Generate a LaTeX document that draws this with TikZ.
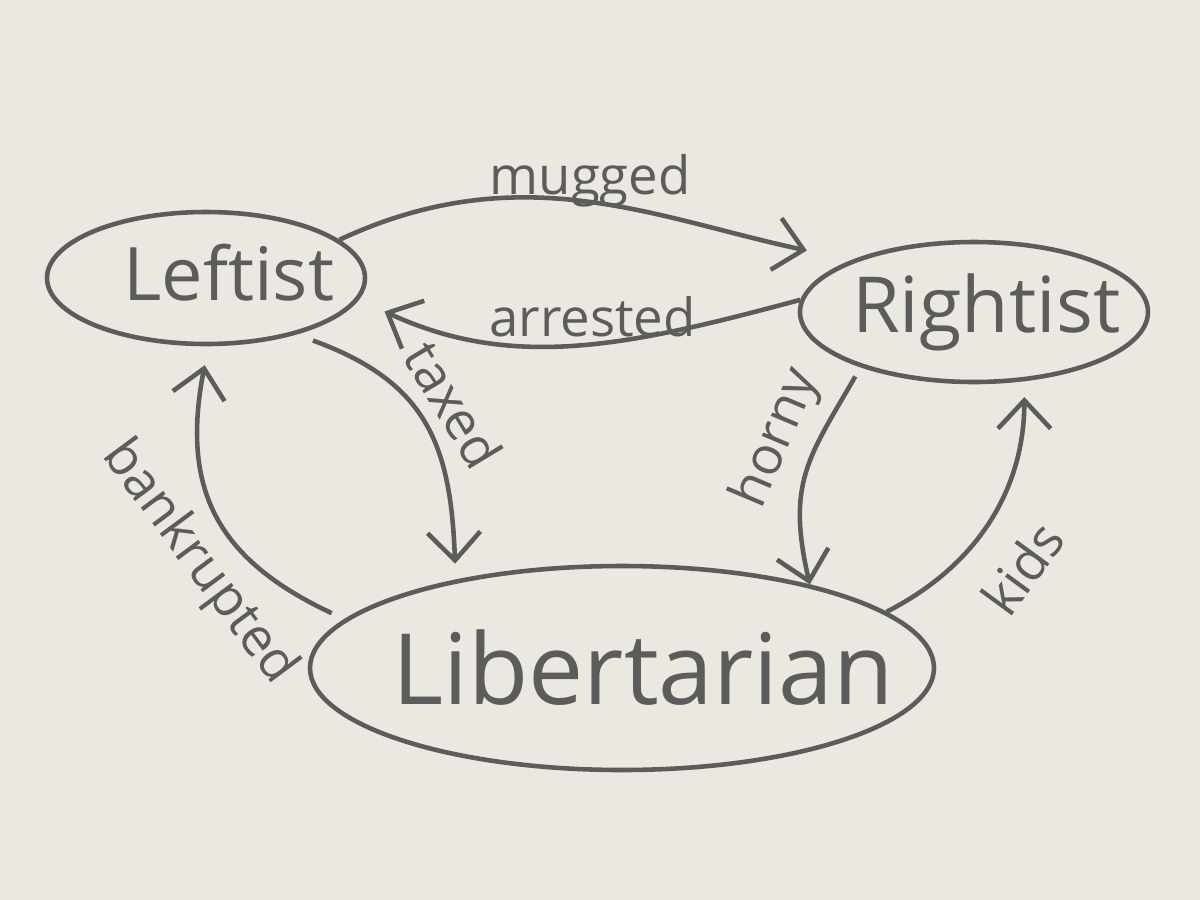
\documentclass[tikz,border=0pt]{standalone}
\usepackage{fontspec}
\setmainfont{Open Sans}
\usetikzlibrary{shapes.geometric,arrows.meta}

\definecolor{pencil}{RGB}{92,92,90}
\definecolor{paper}{RGB}{235,232,226}

\tikzstyle{party}=[draw,ellipse,line width=1.3pt,inner sep=0pt]
\tikzstyle{edge} = [draw,line width=1.3pt,-{Straight Barb[length=8pt,width=15pt]}]
\tikzstyle{weight} = [font=\fontsize{15}{18}\selectfont,inner sep=1pt]

\begin{document}
\begin{tikzpicture}[color=pencil]
    % the sheet of paper
    \useasboundingbox (0,0) rectangle (12,-9);
    \fill[paper] (0,0) rectangle (12,-9);
    % First we draw the three parties
    \foreach \pos/\name/\w/\h/\fs/\dx/\dy in {{(2.06,-2.78)/Leftist/3.18/1.32/21/13pt/3pt}, {(9.74,-3.12)/Rightist/3.48/1.40/22/7pt/0pt}, {(6.22,-6.68)/Libertarian/6.24/2.04/28/12pt/0pt}}
        \node[party,minimum width=\w cm,minimum height=\h cm] (\name) at \pos {\fontsize{\fs}{\fs}\selectfont\makebox[0pt]{\hspace{\dx}\raisebox{\dy}{\name}}};
    % Connect parties with arrows and write the reasons
    \path[edge,shorten >=13pt] (Leftist.16) to[out=25,in=168] node[weight,above=-3pt,pos=.5] {mugged} (Rightist.157);
    \path[edge,shorten >=8pt] (Rightist.176) to[out=195,in=-25] node[weight,above,pos=.46] {arrested} (Leftist.-8);
    \path[edge,shorten <=5pt,shorten >=4.5pt] (Leftist.-32) to[out=-20,in=92,looseness=1.2] node[weight,sloped,above=3pt,pos=.5] {taxed} (Libertarian.152);
    \path[edge,shorten <=4pt,shorten >=5.5pt] (Libertarian.170) to[out=155,in=-101,looseness=1.2] node[weight,sloped,below=3pt,pos=.4] {bankrupted} (Leftist.-88);
    \path[edge,shorten <=3pt] (Rightist.206) to[out=240,in=103,looseness=1.2] node[weight,sloped,above=2pt,pos=.4] {horny} (Libertarian.24);
    \path[edge,shorten >=4.5pt] (Libertarian.12) to[out=27,in=-90] node[weight,sloped,below=8pt,pos=.42] {kids} (Rightist.-54);
\end{tikzpicture}
\end{document}
